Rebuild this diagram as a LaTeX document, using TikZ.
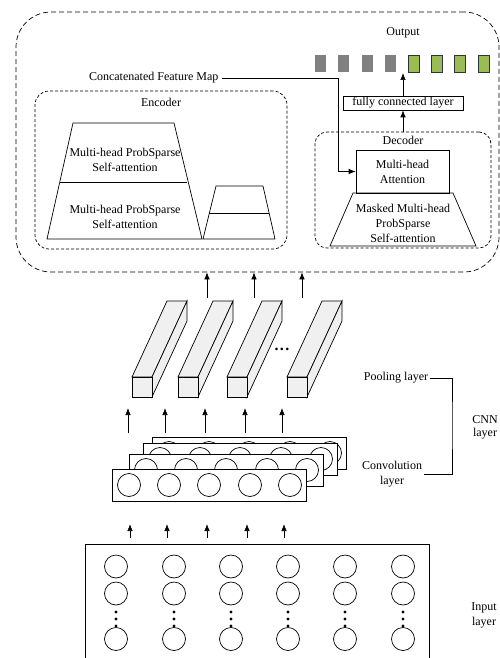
\documentclass[tikz,border=0pt]{standalone}
\usepackage{fontspec}
\setmainfont{Liberation Serif}
\usepackage{tikz}
\usetikzlibrary{arrows.meta,positioning,calc}
\usepackage{xcolor}
\definecolor{outgray}{RGB}{128,128,128}
\definecolor{outgreen}{RGB}{155,187,89}
\definecolor{barfill}{RGB}{240,240,240}
\tikzstyle{arrow} = [-{Latex[length=7pt,width=5.5pt]}]

\begin{document}
\begin{tikzpicture}[x=1pt, y=-1pt, line width=0.7pt,
    font=\fontsize{12}{15}\selectfont,
    region/.style={draw, densely dashed, rounded corners=14pt, inner sep=0pt},
    outcell/.style={minimum width=11pt, minimum height=17pt, inner sep=0pt},
    neuron/.style={circle, draw, fill=white, minimum size=23pt, inner sep=0pt},
    convbox/.style={draw, fill=white, minimum width=194pt, minimum height=32pt, inner sep=0pt},
    lbl/.style={align=center, inner sep=2pt}]
\useasboundingbox (0,0) rectangle (500,658);

% Model frame
\node[draw, dash pattern=on 5pt off 3pt, rounded corners=35pt, minimum width=483pt, minimum height=260pt, inner sep=0pt] (model) at (257.5,142) {};

% Encoder
\node[region, minimum width=252pt, minimum height=158pt] (encoder) at (161,170) {};
\node (enclbl) at (161,102) {Encoder};
\draw (73,123) -- (174,123) -- (202,239) -- (47,239) -- cycle;
\draw (59.8,182) -- (187.2,182);
\node[lbl] (att1) at (125,160) {Multi-head ProbSparse\\Self-attention};
\node[lbl] (att2) at (125,217) {Multi-head ProbSparse\\Self-attention};
\draw (216,186) -- (263,186) -- (275,239) -- (203,239) -- cycle;
\draw (209.4,213) -- (269.1,213);

% Decoder
\node[region, minimum width=176pt, minimum height=116pt, rounded corners=12pt] (decoder) at (403,190) {};
\node (declbl) at (403,140) {Decoder};
\node[draw, minimum width=93pt, minimum height=43pt, align=center] (att) at (402.5,171.5) {Multi-head\\Attention};
\draw (353,193) -- (453,193) -- (476,246) -- (330,246) -- cycle;
\node[lbl] (masked) at (403,223) {Masked Multi-head\\ProbSparse\\Self-attention};

% Output
\node[draw, minimum width=120pt, minimum height=14pt, inner sep=1pt] (fc) at (403,103) {fully connected layer};
\node (outlbl) at (403,33) {Output};
\foreach \i in {0,...,3}
  \node[outcell, fill=outgray] (out\i) at (320.5+23.3*\i,63.5) {};
\foreach \i in {4,...,7}
  \node[outcell, fill=outgreen, draw=black!80] (out\i) at (320.5+23.3*\i,63.5) {};
\coordinate (outin) at (403,73);
\draw[arrow] (fc.north) -- (outin);
\draw[arrow] (decoder.north) -- (fc.south);

% Feature map into decoder
\node[anchor=east] (concat) at (222,78) {Concatenated Feature Map};
\coordinate (bend) at (338,78);
\draw[arrow] (concat.east) -- (bend) |- (att.west);

% Pooling bars
\foreach \x [count=\k] in {132,178,227,287} {
  \draw[fill=barfill] (\x,377) -- (\x+35,301) -- (\x+55,301) -- (\x+20,377) -- cycle;
  \draw[fill=barfill] (\x+20,377) -- (\x+55,301) -- (\x+55,321) -- (\x+20,397) -- cycle;
  \node[draw, fill=barfill, minimum size=20pt, inner sep=0pt] (pool\k) at (\x+10,387) {};
}
\node (dots) at (282,349) {\fontsize{16}{16}\selectfont\textbf{.\kern1.5pt.\kern1.5pt.}};
\foreach \x [count=\k] in {207,254,302} {
  \coordinate (up\k) at (\x,298);
  \draw[arrow] (up\k) -- (up\k |- model.south);
}

% Convolution layers
\foreach \x [count=\k] in {128,165,205,245,282} {
  \coordinate (ca\k) at (\x,433);
  \coordinate (cb\k) at (\x,408);
  \draw[arrow] (ca\k) -- (cb\k);
}
\foreach \dx/\dy [count=\k] in {40/-32,31/-26,17/-15,0/0} {
  \node[convbox] (conv\k) at (209+\dx,485+\dy) {};
  \foreach \cx [count=\j] in {17,57,97,138,178}
    \node[neuron] (conv\k-\j) at (112+\dx+\cx,485+\dy) {};
}

% Input layer
\foreach \x [count=\k] in {130,167,207,247,284} {
  \coordinate (ia\k) at (\x,538);
  \coordinate (ib\k) at (\x,524);
  \draw[arrow] (ia\k) -- (ib\k);
}
\draw (85,658) -- (85,544) -- (429,544) -- (429,658);
\foreach \x [count=\i] in {116,174,231,288,345,403} {
  \node[neuron] (in\i-1) at (\x,566.5) {};
  \node[neuron] (in\i-2) at (\x,593.5) {};
  \node[neuron] (in\i-n) at (\x,639) {};
  \foreach \y in {612,619,626}
    \fill (\x,\y) circle (1.7pt);
}

% Side labels
\node[inner sep=1pt] (poollbl) at (396,378) {Pooling layer};
\node[lbl] (convlbl) at (392,474) {Convolution\\layer};
\coordinate (brk) at (452,425);
\draw (poollbl.east) -| (brk) |- (convlbl.east);
\node[align=center, font=\fontsize{12}{13}\selectfont] (cnnlbl) at (485,427) {CNN\\layer};
\node[lbl] (inlbl) at (484,615) {Input\\layer};
\end{tikzpicture}
\end{document}
